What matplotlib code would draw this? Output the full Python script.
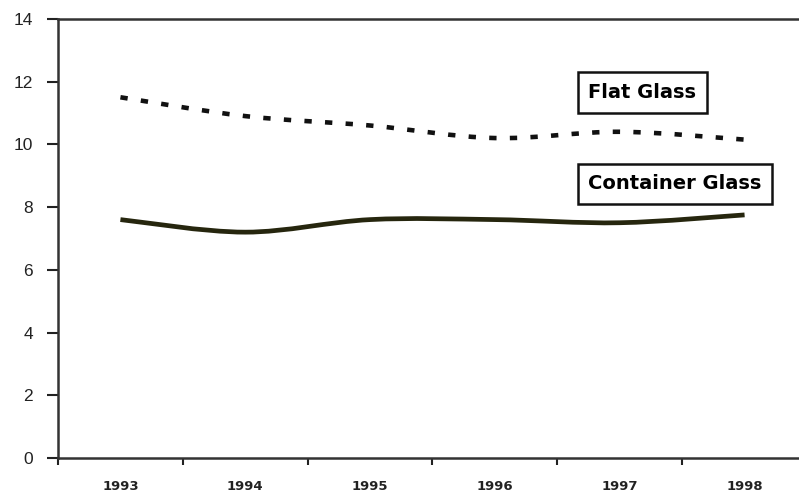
import matplotlib.pyplot as plt
import numpy as np
from matplotlib.path import Path
from matplotlib.patches import PathPatch

years = ['1993', '1994', '1995', '1996', '1997', '1998']
flat_glass = [11.5, 10.9, 10.6, 10.2, 10.4, 10.15]
container_glass = [7.6, 7.2, 7.6, 7.6, 7.5, 7.75]


def smooth_path(xs, ys):
    # Catmull-Rom style bezier through the points (like a spreadsheet "smoothed line")
    pts = np.column_stack([xs, ys]).astype(float)
    ext = np.vstack([pts[0], pts, pts[-1]])
    verts = [pts[0]]
    codes = [Path.MOVETO]
    for i in range(1, len(ext) - 2):
        p0, p1, p2, p3 = ext[i - 1], ext[i], ext[i + 1], ext[i + 2]
        c1 = p1 + (p2 - p0) / 6.0
        c2 = p2 - (p3 - p1) / 6.0
        verts += [c1, c2, p2]
        codes += [Path.CURVE4] * 3
    return Path(verts, codes)


fig = plt.figure(figsize=(7.99, 4.99), dpi=100)
ax = fig.add_axes([0.0726, 0.0822, 0.9274, 0.88])

x = np.arange(len(years))

flat = PathPatch(smooth_path(x, flat_glass), fill=False, edgecolor='#111111',
                 linewidth=3.3, linestyle=(0, (1.6, 2.9)), capstyle='butt')
cont = PathPatch(smooth_path(x, container_glass), fill=False, edgecolor='#26260e',
                 linewidth=3.4, capstyle='butt')
ax.add_patch(flat)
ax.add_patch(cont)

ax.set_xlim(-0.5, 5.436)
ax.set_ylim(0, 14)
ax.set_yticks(np.arange(0, 15, 2))
ax.set_yticklabels([str(v) for v in range(0, 15, 2)], fontsize=12.5,
                   family='Liberation Sans', color='#222222')

ax.set_xticks(x)
ax.set_xticklabels(years, fontsize=9.5, fontweight='bold', family='DejaVu Sans',
                   color='#222222')
ax.set_xticks(np.arange(-0.5, 5.5, 1), minor=True)
ax.tick_params(axis='x', which='major', length=0, pad=16)
ax.tick_params(axis='x', which='minor', length=5, width=1.5, direction='out',
               color='#222222')
ax.tick_params(axis='y', length=8, width=1.5, direction='out', color='#222222',
               pad=10)

for side in ['top', 'left', 'bottom']:
    ax.spines[side].set_linewidth(1.8)
    ax.spines[side].set_color('#333333')
ax.spines['right'].set_visible(False)

box = dict(boxstyle='square,pad=0.55', facecolor='white', edgecolor='#111111',
           linewidth=1.8)
ax.text(0.7156, 0.8326, 'Flat Glass', transform=ax.transAxes, fontsize=14,
        fontweight='bold', family='DejaVu Sans', va='center', ha='left',
        bbox=box)
ax.text(0.7156, 0.624, 'Container Glass', transform=ax.transAxes, fontsize=14,
        fontweight='bold', family='DejaVu Sans', va='center', ha='left',
        bbox=box)

fig.savefig('out.png', dpi=100)
